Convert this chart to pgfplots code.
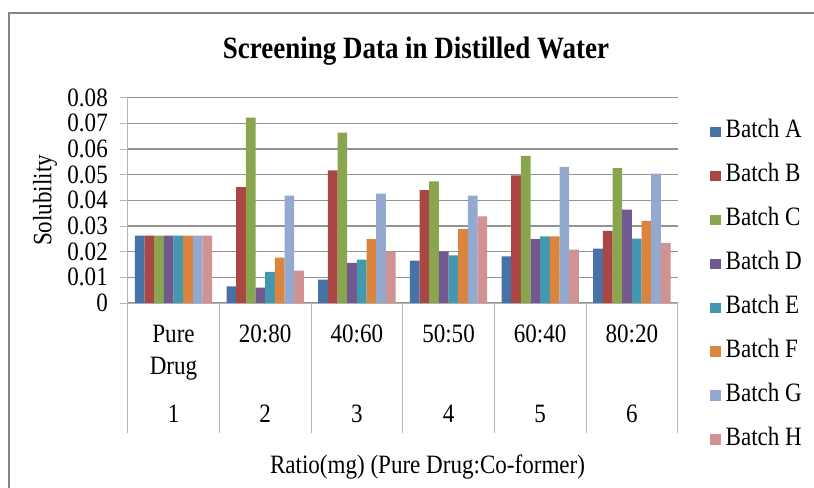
\documentclass[border=0pt]{standalone}
\usepackage{fontspec}
\setmainfont{Liberation Serif}[FakeStretch=0.87]
\usepackage{pgfplots}
\usepackage{pgfplotstable}
\pgfplotsset{compat=1.18}
\definecolor{cA}{HTML}{4572A7}
\definecolor{cB}{HTML}{AA4643}
\definecolor{cC}{HTML}{89A54E}
\definecolor{cD}{HTML}{71588F}
\definecolor{cE}{HTML}{4198AF}
\definecolor{cF}{HTML}{DB843D}
\definecolor{cG}{HTML}{93A9CF}
\definecolor{cH}{HTML}{D19392}
\definecolor{gridc}{HTML}{939393}
\definecolor{sepc}{HTML}{B4B4B4}
\definecolor{framec}{HTML}{858585}
\pgfplotstableread{
x A B C D E F G H
1 0.0263 0.0263 0.0263 0.0263 0.0263 0.0263 0.0263 0.0263
2 0.0065 0.0452 0.0722 0.0060 0.0121 0.0177 0.0418 0.0126
3 0.0091 0.0517 0.0664 0.0156 0.0169 0.0249 0.0426 0.0199
4 0.0165 0.0440 0.0474 0.0201 0.0186 0.0288 0.0418 0.0338
5 0.0182 0.0497 0.0573 0.0249 0.0260 0.0260 0.0530 0.0208
6 0.0212 0.0281 0.0526 0.0364 0.0251 0.0320 0.0504 0.0234
}\datatable
\begin{document}
\begin{tikzpicture}
\useasboundingbox (0,0) rectangle (814bp,488bp);
\fill[white] (0,0) rectangle (814bp,488bp);
\draw[framec, line width=2bp] (9bp,-10bp) -- (9bp,475bp) -- (830bp,475bp);
\begin{axis}[
  at={(127.7bp,185bp)}, anchor=south west,
  scale only axis, width=550bp, height=205.3bp,
  clip=false,
  ybar=0pt, bar width=9.67bp,
  xmin=0.5, xmax=6.5, ymin=0, ymax=0.08,
  xtick={0.5,1.5,...,6.5},
  x tick label as interval,
  xticklabels={Pure\\Drug\\[16bp]1, 20:80\\\strut\\[16bp]2, 40:60\\\strut\\[16bp]3, 50:50\\\strut\\[16bp]4, 60:40\\\strut\\[16bp]5, 80:20\\\strut\\[16bp]6},
  ytick={0,0.01,0.02,0.03,0.04,0.05,0.06,0.07,0.08},
  yticklabels={0,0.01,0.02,0.03,0.04,0.05,0.06,0.07,0.08},
  scaled y ticks=false,
  /pgf/number format/assume math mode=true,
  tick align=outside, major tick length=7.7bp,
  tick style={sepc, line width=1bp},
  axis lines*=left,
  axis line style={sepc, line width=1bp, -},
  ymajorgrids,
  grid style={gridc, line width=1.2bp},
  every tick label/.append style={font=\fontsize{26.5bp}{32bp}\selectfont, inner sep=0pt},
  xticklabel style={anchor=north, align=center, yshift=-14bp},
  yticklabel style={anchor=east, xshift=-12bp},
  title={Screening Data in Distilled Water},
  title style={font=\fontsize{31bp}{34bp}\selectfont\bfseries, at={(axis description cs:0.5242,1.2323)}, anchor=center, yshift=-7bp},
  xlabel={Ratio(mg) (Pure Drug:Co-former)},
  xlabel style={font=\fontsize{26.5bp}{30bp}\selectfont, at={(axis description cs:0.5451,-0.7974)}, anchor=center},
  ylabel={Solubility},
  ylabel style={font=\fontsize{26.5bp}{30bp}\selectfont, at={(axis description cs:-0.1504,0.5)}, anchor=center},
  legend cell align=left,
  legend image code/.code={\path[#1, draw=none] (0bp,-5.35bp) rectangle (10.7bp,5.35bp);},
  legend style={draw=none, fill=none, at={(axis description cs:1.0587,0.8836)}, anchor=north west,
    inner sep=0pt, outer sep=0pt, row sep=22.95bp, column sep=5bp,
    font=\fontsize{26.5bp}{30bp}\selectfont,
    nodes={inner sep=0pt, text height=16bp, text depth=5bp}},
]
\addplot[fill=cA, draw=none] table[x=x, y=A] {\datatable};
\addplot[fill=cB, draw=none] table[x=x, y=B] {\datatable};
\addplot[fill=cC, draw=none] table[x=x, y=C] {\datatable};
\addplot[fill=cD, draw=none] table[x=x, y=D] {\datatable};
\addplot[fill=cE, draw=none] table[x=x, y=E] {\datatable};
\addplot[fill=cF, draw=none] table[x=x, y=F] {\datatable};
\addplot[fill=cG, draw=none] table[x=x, y=G] {\datatable};
\addplot[fill=cH, draw=none] table[x=x, y=H] {\datatable};
\legend{Batch A, Batch B, Batch C, Batch D, Batch E, Batch F, Batch G, Batch H}
\pgfplotsinvokeforeach{0.5,1.5,2.5,3.5,4.5,5.5,6.5}{
  \draw[sepc, line width=1bp] (axis cs:#1,0) -- ([yshift=-129.7bp]axis cs:#1,0);
}
\end{axis}
\end{tikzpicture}
\end{document}
